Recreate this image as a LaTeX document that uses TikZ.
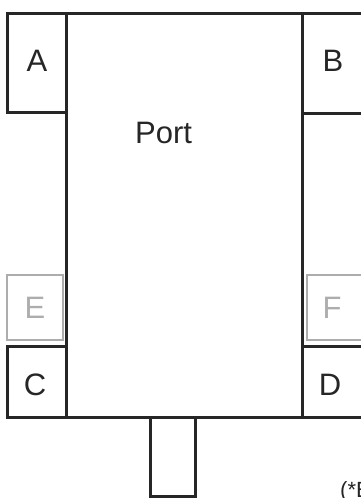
\documentclass[tikz,border=0pt]{standalone}
\usepackage{fontspec}
\setmainfont{Liberation Sans}
\begin{document}
\begin{tikzpicture}[x=1pt,y=-1pt]
\tikzset{
  blk/.style={draw=black!85, line width=3pt},
  gry/.style={draw=black!32, line width=2.6pt},
  lbl/.style={font=\fontsize{31}{31}\selectfont, text=black!85, inner sep=0pt},
  glbl/.style={lbl, text=black!32},
  note/.style={font=\fontsize{22}{22}\selectfont, text=black!85, inner sep=0pt}
}
\useasboundingbox (0,0) rectangle (361,498);
\clip (0,0) rectangle (361,498);
% main port
\draw[blk] (66,13) rectangle (302,417);
% side boxes
\draw[blk] (7,13) rectangle (66,112);
\draw[blk] (302,13) rectangle (363,113);
\draw[gry] (7,275) rectangle (63,340);
\draw[gry] (307,275) rectangle (363,340);
\draw[blk] (7,346) rectangle (66,417);
\draw[blk] (302,346) rectangle (363,417);
% stub
\draw[blk] (150,417) rectangle (195,496);
% labels
\node[lbl, anchor=base west] (port) at (135,143) {Port};
\node[lbl] (a) at (37,61) {A};
\node[lbl] (b) at (333,61) {B};
\node[glbl] (e) at (35,308) {E};
\node[glbl] (f) at (332,308) {F};
\node[lbl] (c) at (35,385) {C};
\node[lbl] (d) at (330,385) {D};
\node[note, anchor=base west] (n) at (340,497) {(*E};
\end{tikzpicture}
\end{document}
